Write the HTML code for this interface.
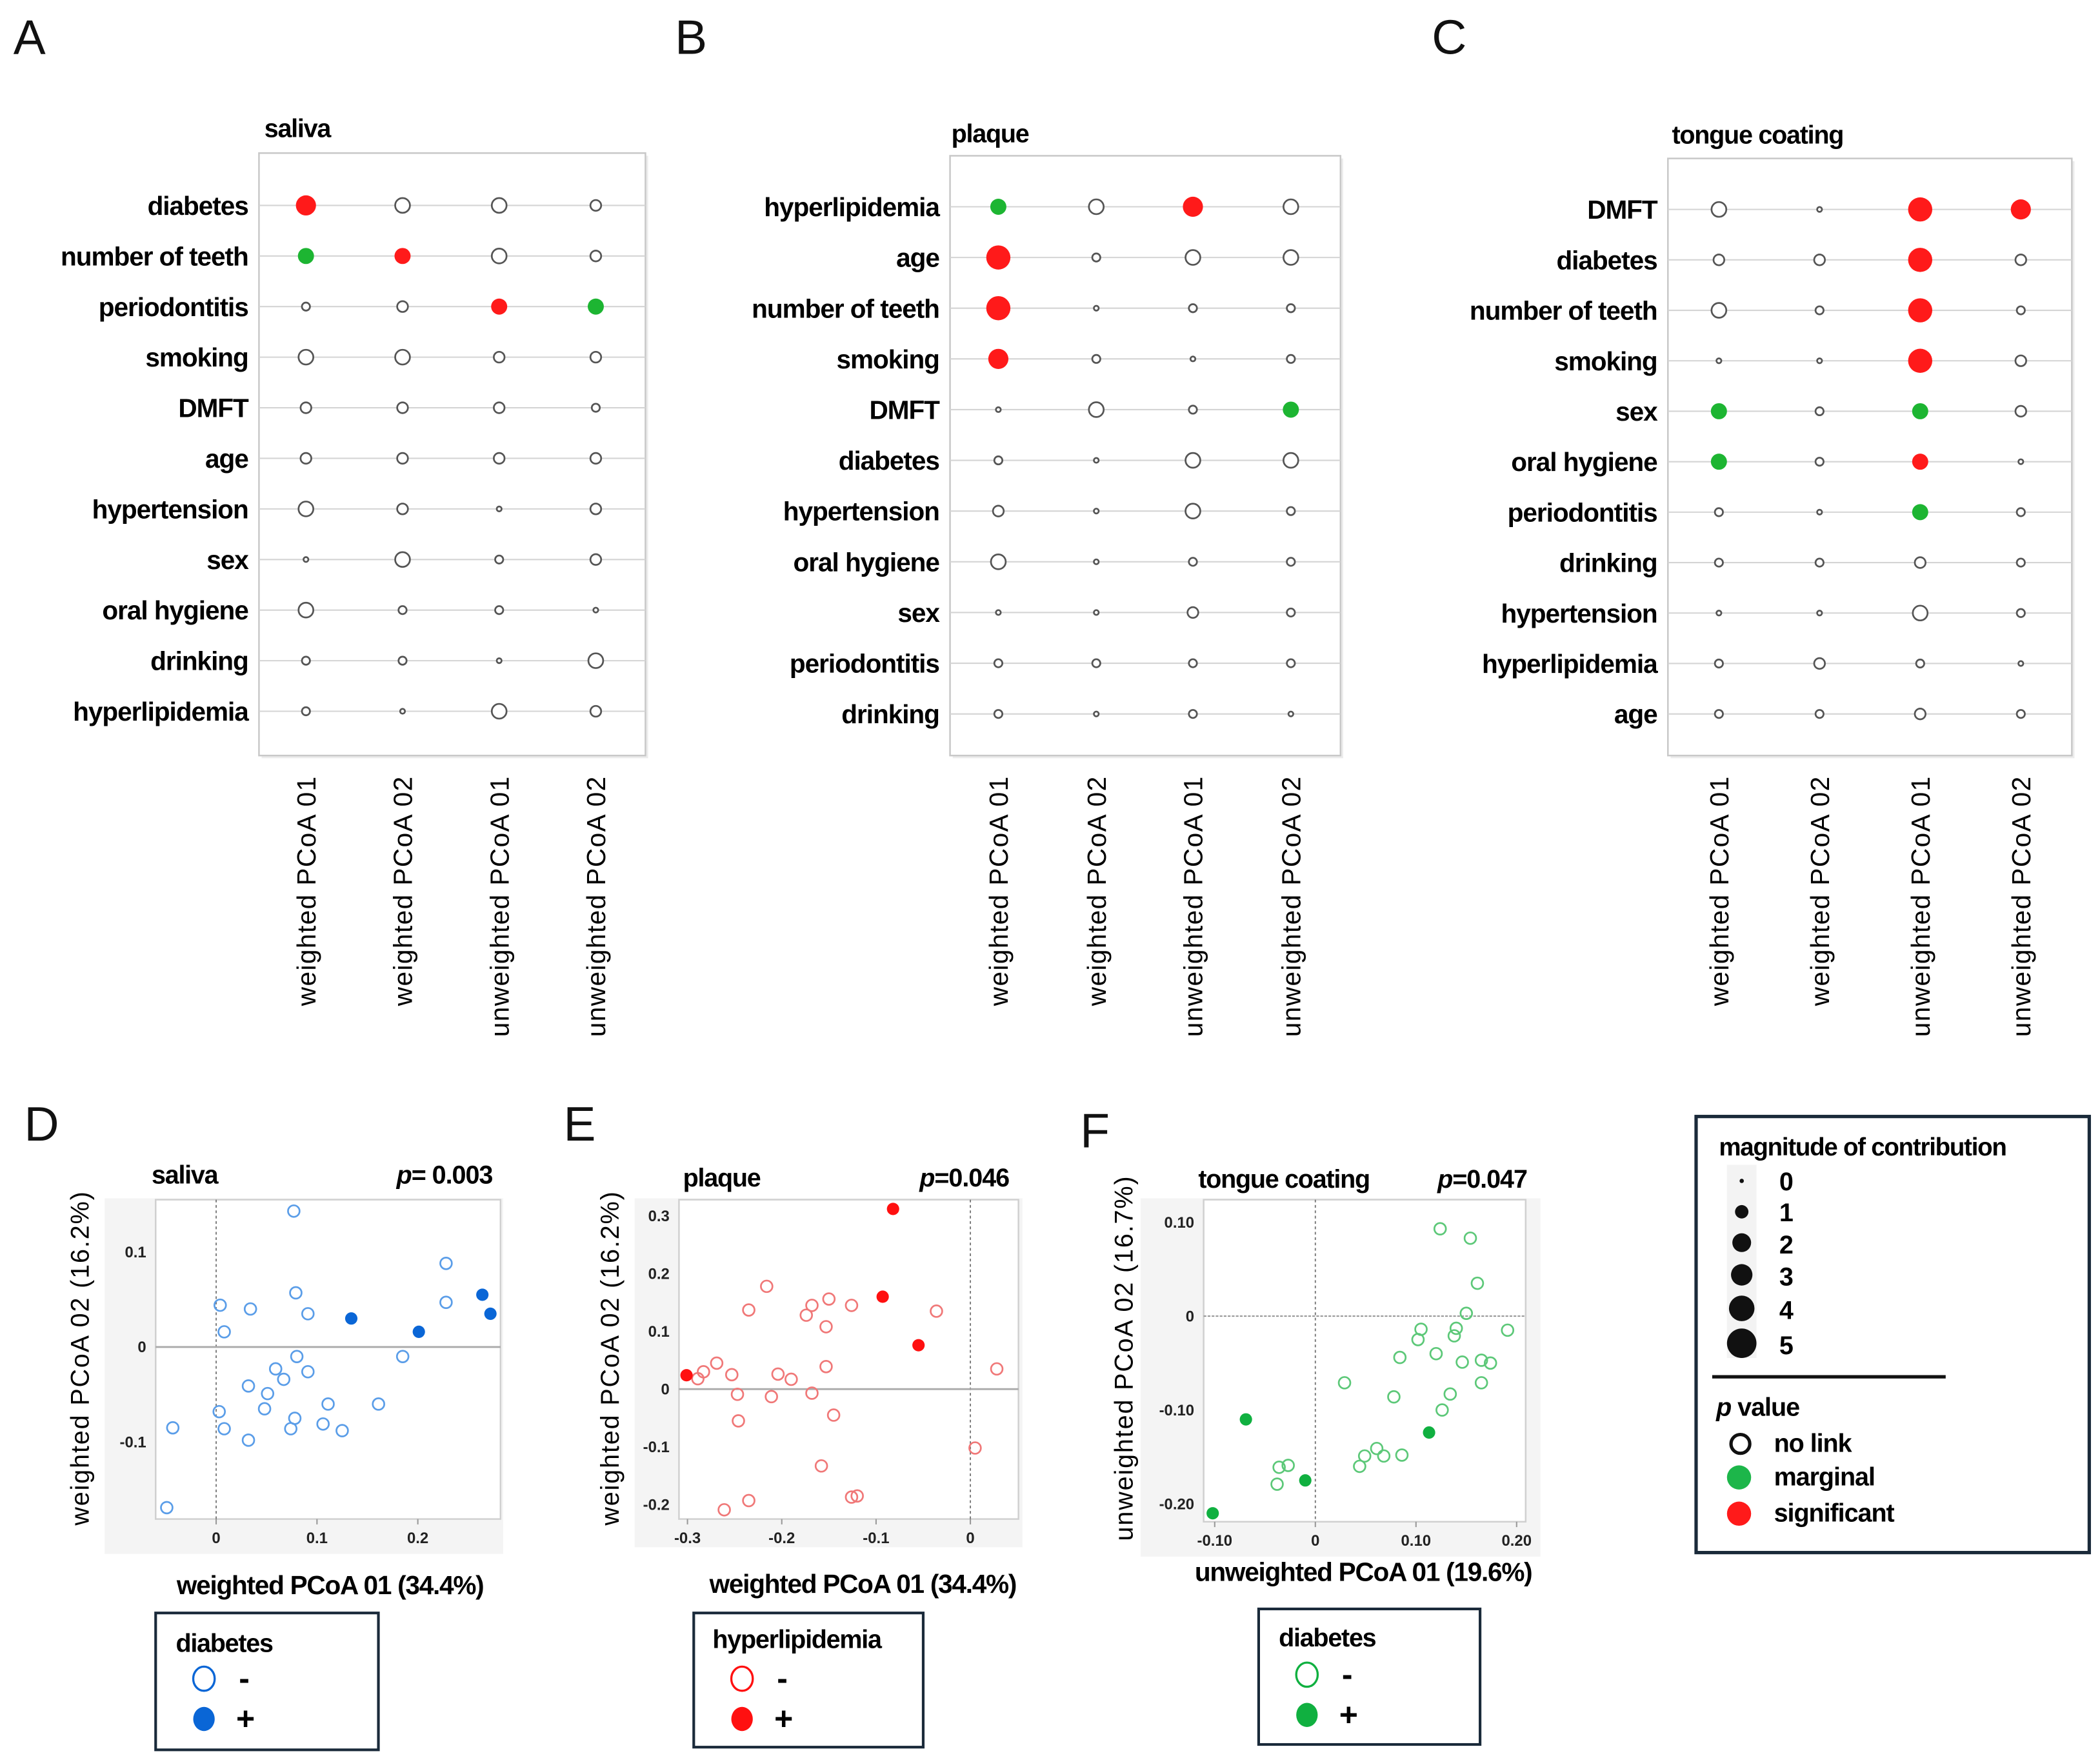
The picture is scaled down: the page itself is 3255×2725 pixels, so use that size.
<!DOCTYPE html>
<html><head><meta charset="utf-8"><style>
html,body{margin:0;padding:0;background:#fff}
svg{display:block}
text{font-family:"Liberation Sans",Arial,sans-serif}
</style></head><body>
<svg id="fig" xmlns="http://www.w3.org/2000/svg" width="3255" height="2725" viewBox="0 0 1565 1310">
<rect width="1565" height="1310" fill="#fff"/>
<g font-size="36" fill="#111">
<text x="10" y="40">A</text>
<text x="503" y="40">B</text>
<text x="1067" y="40">C</text>
<text x="18" y="850">D</text>
<text x="420" y="850">E</text>
<text x="805" y="855">F</text>
</g>
<g id="heat"></g>
<g id="scat"></g>
<g font-weight="bold">
<rect x="1264" y="832" width="293" height="325" fill="none" stroke="#1a2a3a" stroke-width="2.5"/>
<text x="1281" y="861" font-size="18.5" letter-spacing="-0.6">magnitude of contribution</text>
<rect x="1287" y="868" width="22" height="144" fill="#f3f3f3"/>
<circle cx="1298" cy="880" r="1.6" fill="#111"/><text x="1326" y="887" font-size="19">0</text>
<circle cx="1298" cy="903" r="5" fill="#111"/><text x="1326" y="910" font-size="19">1</text>
<circle cx="1298" cy="926" r="7" fill="#111"/><text x="1326" y="934" font-size="19">2</text>
<circle cx="1298" cy="950" r="8" fill="#111"/><text x="1326" y="958" font-size="19">3</text>
<circle cx="1298" cy="975" r="9.5" fill="#111"/><text x="1326" y="983" font-size="19">4</text>
<circle cx="1298" cy="1001" r="11" fill="#111"/><text x="1326" y="1009" font-size="19">5</text>
<line x1="1276" y1="1026" x2="1450" y2="1026" stroke="#111" stroke-width="2.5"/>
<text x="1279" y="1055" font-size="19" letter-spacing="-0.5"><tspan font-style="italic">p</tspan> value</text>
<circle cx="1297" cy="1076" r="7" fill="none" stroke="#111" stroke-width="2.5"/><text x="1322" y="1082" font-size="19" letter-spacing="-0.5">no link</text>
<circle cx="1296" cy="1101" r="9" fill="#1db64a"/><text x="1322" y="1107" font-size="19" letter-spacing="-0.5">marginal</text>
<circle cx="1296" cy="1128" r="9" fill="#ff1a1a"/><text x="1322" y="1134" font-size="19" letter-spacing="-0.5">significant</text>
</g>
<script>
var NS="http://www.w3.org/2000/svg";
function mk(tag,attrs,parent,txt){var e=document.createElementNS(NS,tag);for(var k in attrs)e.setAttribute(k,attrs[k]);if(txt!==undefined)e.textContent=txt;parent.appendChild(e);return e;}
var colLabels=["weighted PCoA 01","weighted PCoA 02","unweighted PCoA 01","unweighted PCoA 02"];
var rowsA=["diabetes","number of teeth","periodontitis","smoking","DMFT","age","hypertension","sex","oral hygiene","drinking","hyperlipidemia"];
var magA=[[4,3,3,2],[3,3,3,2],[1,2,3,3],[3,3,2,2],[2,2,2,1],[2,2,2,2],[3,2,0,2],[0,3,1,2],[3,1,1,0],[1,1,0,3],[1,0,3,2]];
var statA=["snnn","msnn","nnsm","nnnn","nnnn","nnnn","nnnn","nnnn","nnnn","nnnn","nnnn"];
var rowsB=["hyperlipidemia","age","number of teeth","smoking","DMFT","diabetes","hypertension","oral hygiene","sex","periodontitis","drinking"];
var magB=[[3,3,4,3],[5,1,3,3],[5,0,1,1],[4,1,0,1],[0,3,1,3],[1,0,3,3],[2,0,3,1],[3,0,1,1],[0,0,2,1],[1,1,1,1],[1,0,1,0]];
var statB=["mnsn","snnn","snnn","snnn","nnnm","nnnn","nnnn","nnnn","nnnn","nnnn","nnnn"];
var rowsC=["DMFT","diabetes","number of teeth","smoking","sex","oral hygiene","periodontitis","drinking","hypertension","hyperlipidemia","age"];
var magC=[[3,0,5,4],[2,2,5,2],[3,1,5,1],[0,0,5,2],[3,1,3,2],[3,1,3,0],[1,0,3,1],[1,1,2,1],[0,0,3,1],[1,2,1,0],[1,1,2,1]];
var statC=["nnss","nnsn","nnsn","nnsn","mnmn","mnsn","nnmn","nnnn","nnnn","nnnn","nnnn"];
var heatPanels=[
 {id:"saliva",title:"saliva",rows:rowsA,mag:magA,stat:statA,bx:193,by:114,bw:288,bh:449,y0:153,dy:37.7,cols:[228,300,372,444],tx:197,ty:102},
 {id:"plaque",title:"plaque",rows:rowsB,mag:magB,stat:statB,bx:708,by:116,bw:291,bh:447,y0:154,dy:37.8,cols:[744,817,889,962],tx:709,ty:106},
 {id:"tongue",title:"tongue coating",rows:rowsC,mag:magC,stat:statC,bx:1243,by:118,bw:301,bh:445,y0:156,dy:37.6,cols:[1281,1356,1431,1506],tx:1246,ty:107}];
var radF=[2,3,4,5,6.5,8], radH=[1.8,3,4,5.5,7,8.5];
var hg=document.getElementById("heat");
heatPanels.forEach(function(p){
 var g=mk("g",{},hg);
 
 
 mk("rect",{x:p.bx+2,y:p.by+2,width:p.bw,height:p.bh,fill:"#ececec"},g);
 mk("rect",{x:p.bx,y:p.by,width:p.bw,height:p.bh,fill:"#fff",stroke:"#c8c8c8","stroke-width":1.2},g);
 var t=mk("text",{x:p.tx,y:p.ty,"font-size":19,"font-weight":"bold","letter-spacing":"-0.6"},g,p.title);
 
 
 p.rows.forEach(function(r,i){
  var y=p.y0+i*p.dy;
  mk("line",{x1:p.bx,x2:p.bx+p.bw,y1:y,y2:y,stroke:"#d4d4d4","stroke-width":1},g);
  var lt=mk("text",{x:p.bx-8,y:y+7,"font-size":19.5,"font-weight":"bold","text-anchor":"end","letter-spacing":"-0.5"},g,r);
  
  
  p.cols.forEach(function(cx,j){
   var m=p.mag[i][j], s=p.stat[i].charAt(j), c;
   if(s==="n"){c=mk("circle",{cx:cx,cy:y,r:radH[m],fill:"#fff",stroke:"#555","stroke-width":1.3},g);}
   else{c=mk("circle",{cx:cx,cy:y,r:radF[m]+1,fill:s==="s"?"#ff1a1a":"#1db532"},g);}
   
   
  });
 });
 p.cols.forEach(function(cx,j){
  var ct=mk("text",{x:0,y:0,"font-size":19.5,"letter-spacing":"0.7","text-anchor":"end",transform:"translate("+(cx+7)+","+(p.by+p.bh+15)+") rotate(-90)"},g,colLabels[j]);
  
  
 });
});

var dHollowX=[0.077,0.228,0.079,0.004,0.034,0.091,0.008,0.185,0.228,0.080,0.059,0.091,0.067,0.032,0.051,0.111,0.161,0.003,0.048,0.078,0.074,0.008,0.106,0.125,-0.043,0.032,-0.049];
var dHollowY=[0.143,0.088,0.057,0.044,0.040,0.035,0.016,-0.010,0.047,-0.010,-0.023,-0.026,-0.034,-0.041,-0.049,-0.060,-0.060,-0.068,-0.065,-0.075,-0.086,-0.086,-0.081,-0.088,-0.085,-0.098,-0.169];
var dFilledX=[0.134,0.201,0.264,0.272];
var dFilledY=[0.030,0.016,0.055,0.035];
var eHollowX=[-0.216,-0.235,-0.168,-0.150,-0.126,-0.174,-0.153,-0.036,-0.269,-0.283,-0.289,-0.253,-0.204,-0.190,-0.153,-0.247,-0.211,-0.168,-0.145,-0.246,0.028,0.005,-0.158,-0.126,-0.120,-0.235,-0.261];
var eHollowY=[0.178,0.137,0.145,0.156,0.145,0.128,0.108,0.135,0.045,0.030,0.018,0.025,0.026,0.017,0.039,-0.009,-0.013,-0.007,-0.045,-0.055,0.035,-0.102,-0.133,-0.187,-0.185,-0.193,-0.209];
var eFilledX=[-0.082,-0.093,-0.055,-0.301];
var eFilledY=[0.312,0.160,0.076,0.024];
var fHollowX=[0.124,0.154,0.161,0.150,0.105,0.140,0.191,0.102,0.138,0.120,0.084,0.146,0.165,0.174,0.029,0.078,0.134,0.165,0.126,0.061,0.049,0.068,0.086,0.044,-0.036,-0.027,-0.038];
var fHollowY=[0.093,0.083,0.035,0.003,-0.014,-0.013,-0.015,-0.025,-0.021,-0.040,-0.044,-0.049,-0.047,-0.050,-0.071,-0.086,-0.083,-0.071,-0.100,-0.141,-0.149,-0.149,-0.148,-0.160,-0.161,-0.159,-0.179];
var fFilledX=[-0.069,-0.010,-0.102,0.113];
var fFilledY=[-0.110,-0.175,-0.210,-0.124];
var dTicksX=[0,0.1,0.2], dTickLabX=["0","0.1","0.2"], dTicksY=[0.1,0,-0.1], dTickLabY=["0.1","0","-0.1"];
var eTicksX=[-0.3,-0.2,-0.1,0], eTickLabX=["-0.3","-0.2","-0.1","0"], eTicksY=[0.3,0.2,0.1,0,-0.1,-0.2], eTickLabY=["0.3","0.2","0.1","0","-0.1","-0.2"];
var fTicksX=[-0.1,0,0.1,0.2], fTickLabX=["-0.10","0","0.10","0.20"], fTicksY=[0.1,0,-0.1,-0.2], fTickLabY=["0.10","0","-0.10","-0.20"];

var scatPanels=[
 {id:"saliva",hx:dHollowX,hy:dHollowY,fx:dFilledX,fy:dFilledY,tx:dTicksX,tlx:dTickLabX,ty:dTicksY,tly:dTickLabY,
  xmin:-0.060,xmax:0.282,ymin:-0.181,ymax:0.155,px0:116,px1:373,py0:894,py1:1132,bg:[78,893,297,265],
  hc:"#5a9de8",fc:"#0a66d6",solid0:"y",title:"saliva",titleX:113,titleY:882,p:"= 0.003",pX:367,yl:"weighted PCoA 02 (16.2%)",ylx:60,xl:"weighted PCoA 01 (34.4%)",xlx:246,xly:1188,
  leg:[116,1202,166,102],legT:"diabetes",legTx:131,legTy:1231},
 {id:"plaque",hx:eHollowX,hy:eHollowY,fx:eFilledX,fy:eFilledY,tx:eTicksX,tlx:eTickLabX,ty:eTicksY,tly:eTickLabY,
  xmin:-0.309,xmax:0.051,ymin:-0.225,ymax:0.328,px0:506,px1:759,py0:894,py1:1132,bg:[473,893,289,260],
  hc:"#f07878",fc:"#ff1010",solid0:"y",title:"plaque",titleX:509,titleY:884,p:"=0.046",pX:752,yl:"weighted PCoA 02 (16.2%)",ylx:455,xl:"weighted PCoA 01 (34.4%)",xlx:643,xly:1187,
  leg:[517,1202,171,100],legT:"hyperlipidemia",legTx:531,legTy:1228},
 {id:"tongue",hx:fHollowX,hy:fHollowY,fx:fFilledX,fy:fFilledY,tx:fTicksX,tlx:fTickLabX,ty:fTicksY,tly:fTickLabY,
  xmin:-0.111,xmax:0.209,ymin:-0.219,ymax:0.124,px0:897,px1:1137,py0:894,py1:1134,bg:[850,893,298,267],
  hc:"#5cc878",fc:"#10b040",solid0:"n",title:"tongue coating",titleX:893,titleY:885,p:"=0.047",pX:1138,yl:"unweighted PCoA 02 (16.7%)",ylx:838,xl:"unweighted PCoA 01 (19.6%)",xlx:1016,xly:1178,
  leg:[938,1199,165,101],legT:"diabetes",legTx:953,legTy:1227}];
var sg=document.getElementById("scat");
scatPanels.forEach(function(p){
 var g=mk("g",{},sg);
 
 
 function X(v){return p.px0+(v-p.xmin)/(p.xmax-p.xmin)*(p.px1-p.px0);}
 function Y(v){return p.py0+(p.ymax-v)/(p.ymax-p.ymin)*(p.py1-p.py0);}
 mk("rect",{x:p.bg[0],y:p.bg[1],width:p.bg[2],height:p.bg[3],fill:"#f4f4f4"},g);
 mk("rect",{x:p.px0,y:p.py0,width:p.px1-p.px0,height:p.py1-p.py0,fill:"#fff",stroke:"#d0d0d0","stroke-width":1.2},g);
 mk("line",{x1:X(0),x2:X(0),y1:p.py0,y2:p.py1,stroke:"#777","stroke-width":0.9,"stroke-dasharray":"2,2"},g);
 mk("line",{x1:p.px0,x2:p.px1,y1:Y(0),y2:Y(0),stroke:p.solid0==="y"?"#aaa":"#999","stroke-width":p.solid0==="y"?1.4:1,"stroke-dasharray":p.solid0==="y"?"none":"2,1"},g);
 p.tx.forEach(function(v,i){
  mk("line",{x1:X(v),x2:X(v),y1:p.py1,y2:p.py1+4,stroke:"#999"},g);
  var t=mk("text",{x:X(v),y:p.py1+18,"font-size":11.5,"font-weight":"bold","text-anchor":"middle",fill:"#222"},g,p.tlx[i]);
  
  
 });
 p.ty.forEach(function(v,i){
  var t=mk("text",{x:p.px0-7,y:Y(v)+4,"font-size":11.5,"font-weight":"bold","text-anchor":"end",fill:"#222"},g,p.tly[i]);
  
  
 });
 p.hx.forEach(function(v,i){
  var c=mk("circle",{cx:X(v),cy:Y(p.hy[i]),r:4.3,fill:"none",stroke:p.hc,"stroke-width":1.3},g);
  
  
 });
 p.fx.forEach(function(v,i){
  var c=mk("circle",{cx:X(v),cy:Y(p.fy[i]),r:4.6,fill:p.fc},g);
  
  
 });
 var tt=mk("text",{x:p.titleX,y:p.titleY,"font-size":19,"font-weight":"bold","letter-spacing":"-0.6"},g,p.title);
 
 
 var pt=mk("text",{x:p.pX,y:p.titleY,"font-size":19,"font-weight":"bold","text-anchor":"end","letter-spacing":"-0.5"},g);
 
 
 mk("tspan",{"font-style":"italic"},pt,"p");
 mk("tspan",{},pt,p.p);
 var yt=mk("text",{x:0,y:0,"font-size":19,"letter-spacing":"0.9","text-anchor":"middle",transform:"translate("+(p.ylx+6)+",1012) rotate(-90)"},g,p.yl);
 
 
 var xt=mk("text",{x:p.xlx,y:p.xly,"font-size":19.5,"font-weight":"bold","text-anchor":"middle","letter-spacing":"-0.6"},g,p.xl);
 
 
 var lg=mk("g",{},g);
 
 
 var L=p.leg;
 mk("rect",{x:L[0],y:L[1],width:L[2],height:L[3],fill:"#fff",stroke:"#1a2a3a","stroke-width":2},lg);
 mk("text",{x:p.legTx,y:p.legTy,"font-size":19,"font-weight":"bold","letter-spacing":"-0.6"},lg,p.legT);
 mk("ellipse",{cx:L[0]+36,cy:L[1]+49,rx:8,ry:9,fill:"none",stroke:p.fc,"stroke-width":1.6},lg);
 mk("text",{x:L[0]+62,y:L[1]+57,"font-size":24,"font-weight":"bold"},lg,"-");
 mk("ellipse",{cx:L[0]+36,cy:L[1]+79,rx:8,ry:9,fill:p.fc},lg);
 mk("text",{x:L[0]+60,y:L[1]+87,"font-size":24,"font-weight":"bold"},lg,"+");
});
</script>
</svg>
</body></html>
